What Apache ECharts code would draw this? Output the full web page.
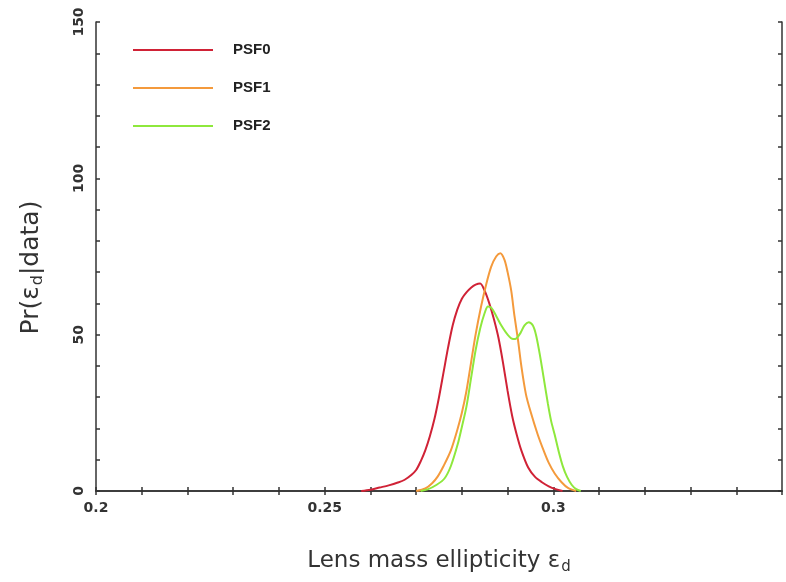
<!DOCTYPE html>
<html>
<head>
<meta charset="utf-8">
<script src="https://cdn.jsdelivr.net/npm/echarts@6/dist/echarts.min.js"></script>
<style>
	html, body { margin: 0; padding: 0; background: #fff; }
	#chart { width: 786px; height: 582px; }
</style>
</head>
<body>
<div id="chart"></div>
<script>
	// values
	var psf0X = [0.2580, 0.2600, 0.2620, 0.2640, 0.2660, 0.2675, 0.2690, 0.2700, 0.2710, 0.2720, 0.2730, 0.2740, 0.2750, 0.2760, 0.2770, 0.2780, 0.2790, 0.2800, 0.2810, 0.2820, 0.2830, 0.2840, 0.2850, 0.2860, 0.2870, 0.2880, 0.2890, 0.2900, 0.2910, 0.2920, 0.2930, 0.2945, 0.2960, 0.2975, 0.2990, 0.3005, 0.3020];
	var psf0Y = [0, 0.4, 1.1, 1.8, 2.7, 3.6, 5.2, 6.7, 9.5, 13, 17.5, 23, 30, 38, 46, 53, 58, 61.5, 63.5, 65, 66, 66.4, 64, 60, 55, 49, 41, 32, 24, 18, 13, 7.5, 4.5, 2.8, 1.5, 0.6, 0];
	var psf1X = [0.2700, 0.2720, 0.2735, 0.2747, 0.2760, 0.2776, 0.2790, 0.2800, 0.2810, 0.2820, 0.2830, 0.2842, 0.2853, 0.2864, 0.2875, 0.2884, 0.2893, 0.2900, 0.2908, 0.2915, 0.2923, 0.2930, 0.2940, 0.2950, 0.2966, 0.2980, 0.2990, 0.3003, 0.3018, 0.3032, 0.3050];
	var psf1Y = [0, 0.8, 2.5, 4.6, 8, 13, 19.5, 25, 32, 41, 50, 59, 66, 71.7, 75, 76, 74, 70, 64, 56, 48, 40, 31, 25.5, 18, 12.5, 9, 5.6, 2.8, 1, 0];
	var psf2X = [0.2710, 0.2725, 0.2745, 0.2762, 0.2776, 0.2791, 0.2800, 0.2810, 0.2820, 0.2830, 0.2840, 0.2850, 0.2857, 0.2865, 0.2875, 0.2886, 0.2900, 0.2912, 0.2919, 0.2928, 0.2937, 0.2946, 0.2955, 0.2962, 0.2970, 0.2978, 0.2988, 0.2995, 0.3003, 0.3012, 0.3021, 0.3030, 0.3040, 0.3050, 0.3060];
	var psf2Y = [0, 0.5, 2, 4, 8, 15, 20.5, 27, 36, 45, 52, 57, 59, 58.5, 56, 53, 50, 48.6, 48.8, 50.5, 53, 54, 53, 50, 44, 37, 28, 22.5, 18, 12.5, 7.8, 4.5, 2, 0.6, 0];
	var seriesNames = ['PSF0', 'PSF1', 'PSF2'];
	var seriesColors = ['#d02236', '#f49a3c', '#8ee83c'];
	var xLabels = [0.2, 0.25, 0.3];

	function pairs(xs, ys) {
		return xs.map(function (x, i) { return [x, ys[i]]; });
	}

	var chart = echarts.init(document.getElementById('chart'));
	var frame = { show: true, lineStyle: { color: '#333', width: 1.5 } };
	var ticks = { show: true, inside: true, length: 4, lineStyle: { color: '#333', width: 1.5 } };
	var tickFont = 'DejaVu Sans';

	chart.setOption({
		animation: false,
		grid: { left: 96, right: 4, top: 22, bottom: 91 },
		legend: {
			orient: 'vertical',
			left: 128,
			top: 37,
			icon: 'rect',
			itemWidth: 80,
			itemHeight: 2,
			itemGap: 22,
			textStyle: { fontFamily: 'Liberation Sans', fontSize: 15, fontWeight: 'bold', color: '#222', lineHeight: 16, padding: [0, 0, 0, 15] },
			data: seriesNames
		},
		xAxis: [{
			type: 'value',
			min: 0.2,
			max: 0.35,
			interval: 0.01,
			axisLine: frame,
			axisTick: ticks,
			splitLine: { show: false },
			axisLabel: {
				margin: 10,
				fontFamily: tickFont,
				fontSize: 14,
				fontWeight: 'bold',
				color: '#333',
				showMaxLabel: false,
				formatter: function (v) {
					for (var i = 0; i < xLabels.length; i++) {
						if (Math.abs(v - xLabels[i]) < 1e-6) return String(xLabels[i]);
					}
					return '';
				}
			},
			name: '{a|Lens mass ellipticity ε}{s|d}',
			nameLocation: 'middle',
			nameGap: 56,
			nameTextStyle: {
				rich: {
					a: { fontFamily: 'DejaVu Sans', fontSize: 23, color: '#333' },
					s: { fontFamily: 'DejaVu Sans', fontSize: 15, color: '#333', padding: [13, 0, 0, 1] }
				}
			}
		}, {
			type: 'value',
			position: 'top',
			min: 0.2,
			max: 0.35,
			interval: 0.01,
			axisLine: frame,
			axisTick: ticks,
			axisLabel: { show: false },
			splitLine: { show: false }
		}],
		yAxis: [{
			type: 'value',
			min: 0,
			max: 150,
			interval: 10,
			axisLine: frame,
			axisTick: ticks,
			splitLine: { show: false },
			axisLabel: {
				rotate: 90,
				margin: 10,
				fontFamily: tickFont,
				fontSize: 14,
				fontWeight: 'bold',
				color: '#333',
				formatter: function (v) { return v % 50 === 0 ? String(v) : ''; }
			},
			name: '{a|Pr(ε}{s|d}{a||data)}',
			nameLocation: 'middle',
			nameRotate: 90,
			nameGap: 50,
			nameTextStyle: {
				padding: [0, 22, 0, 0],
				rich: {
					a: { fontFamily: 'DejaVu Sans', fontSize: 25, color: '#333' },
					s: { fontFamily: 'DejaVu Sans', fontSize: 16, color: '#333', padding: [14, 0, 0, 1] }
				}
			}
		}, {
			type: 'value',
			position: 'right',
			min: 0,
			max: 150,
			interval: 10,
			axisLine: frame,
			axisTick: ticks,
			axisLabel: { show: false },
			splitLine: { show: false }
		}],
		series: [
			{ name: seriesNames[0], type: 'line', data: pairs(psf0X, psf0Y) },
			{ name: seriesNames[1], type: 'line', data: pairs(psf1X, psf1Y) },
			{ name: seriesNames[2], type: 'line', data: pairs(psf2X, psf2Y) }
		].map(function (s, i) {
			s.smooth = 0.3;
			s.showSymbol = false;
			s.color = seriesColors[i];
			s.lineStyle = { width: 2, color: seriesColors[i] };
			return s;
		})
	});
</script>
</body>
</html>
